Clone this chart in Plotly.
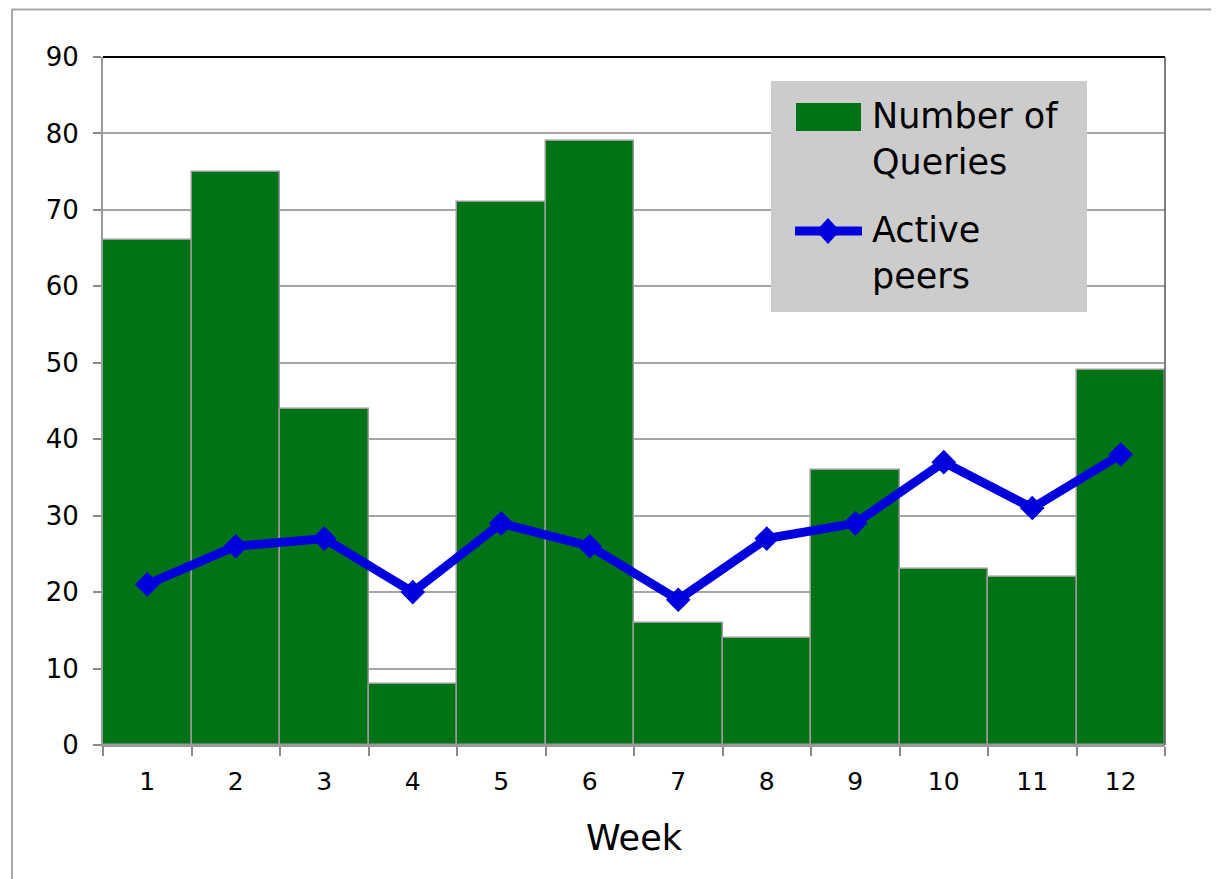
import plotly.graph_objects as go

weeks = ["1", "2", "3", "4", "5", "6", "7", "8", "9", "10", "11", "12"]
queries = [66, 75, 44, 8, 71, 79, 16, 14, 36, 23, 22, 49]
active_peers = [21, 26, 27, 20, 29, 26, 19, 27, 29, 37, 31, 38]
legend_labels = ["Number of<br>Queries", "Active<br>peers"]

FONT = "DejaVu Sans"
GREEN = "#007316"
BLUE = "#0000dd"

# pixel -> paper helpers (plot area: x 103..1165, y 57..745 in page pixels)
def px(x):
    return (x - 103) / 1062.0

def py(y):
    return (745 - y) / 688.0

fig = go.Figure()
fig.add_trace(go.Bar(
    x=weeks, y=queries, name="Number of Queries",
    marker=dict(color=GREEN, line=dict(color="#9a9a9a", width=1.5)),
))
fig.add_trace(go.Scatter(
    x=weeks, y=active_peers, name="Active peers", mode="lines+markers",
    line=dict(color=BLUE, width=9),
    marker=dict(symbol="diamond", size=19, color=BLUE),
))

shapes = [
    dict(type="line", xref="paper", yref="paper", x0=0, x1=1, y0=1, y1=1,
         line=dict(color="black", width=2), layer="above"),
    dict(type="line", xref="paper", yref="paper", x0=1, x1=1, y0=0, y1=1,
         line=dict(color="#555555", width=1.5), layer="above"),
    dict(type="rect", xref="paper", yref="paper", x0=px(12), x1=1.2, y0=-0.3, y1=py(9.5),
         line=dict(color="#a8a8a8", width=2), fillcolor="rgba(0,0,0,0)"),
    # legend box
    dict(type="rect", xref="paper", yref="paper", x0=px(771), x1=px(1087), y0=py(312), y1=py(81),
         line=dict(width=0), fillcolor="#cccccc", layer="above"),
    dict(type="rect", xref="paper", yref="paper", x0=px(796), x1=px(861), y0=py(131), y1=py(103),
         line=dict(width=0), fillcolor=GREEN, layer="above"),
    dict(type="line", xref="paper", yref="paper", x0=px(795), x1=px(862), y0=py(231), y1=py(231),
         line=dict(color=BLUE, width=9), layer="above"),
    dict(type="path", xref="paper", yref="paper",
         path=f"M {px(828)} {py(218)} L {px(840)} {py(231)} L {px(828)} {py(244)} L {px(816)} {py(231)} Z",
         line=dict(width=0), fillcolor=BLUE, layer="above"),
]

annotations = [
    dict(text=legend_labels[0], xref="paper", yref="paper", x=px(870), y=py(94),
         xanchor="left", yanchor="top", showarrow=False, align="left",
         font=dict(family=FONT, size=35, color="black")),
    dict(text=legend_labels[1], xref="paper", yref="paper", x=px(870), y=py(208),
         xanchor="left", yanchor="top", showarrow=False, align="left",
         font=dict(family=FONT, size=35, color="black")),
]

fig.update_layout(
    width=1211, height=871,
    margin=dict(l=95, r=54, t=49, b=134),
    paper_bgcolor="white", plot_bgcolor="white",
    bargap=0,
    font=dict(family=FONT, color="black"),
    showlegend=False,
    xaxis=dict(
        type="category", range=[-0.5, 11.5], tickson="boundaries",
        ticks="outside", ticklen=9, tickcolor="#8a8a8a", tickwidth=2,
        showline=True, linecolor="#9a9a9a", linewidth=2,
        showgrid=False, tickfont=dict(size=25), ticklabelstandoff=13,
        title=dict(text="Week", font=dict(size=35), standoff=30),
    ),
    yaxis=dict(
        range=[0, 90], dtick=10, ticks="outside", ticklen=8,
        tickcolor="#8a8a8a", tickwidth=2,
        showline=True, linecolor="#9a9a9a", linewidth=2,
        showgrid=True, gridcolor="#a6a6a6", gridwidth=2,
        tickfont=dict(size=26), zeroline=False, ticklabelstandoff=9,
    ),
    shapes=shapes,
    annotations=annotations,
)

fig.write_html("out.html")
